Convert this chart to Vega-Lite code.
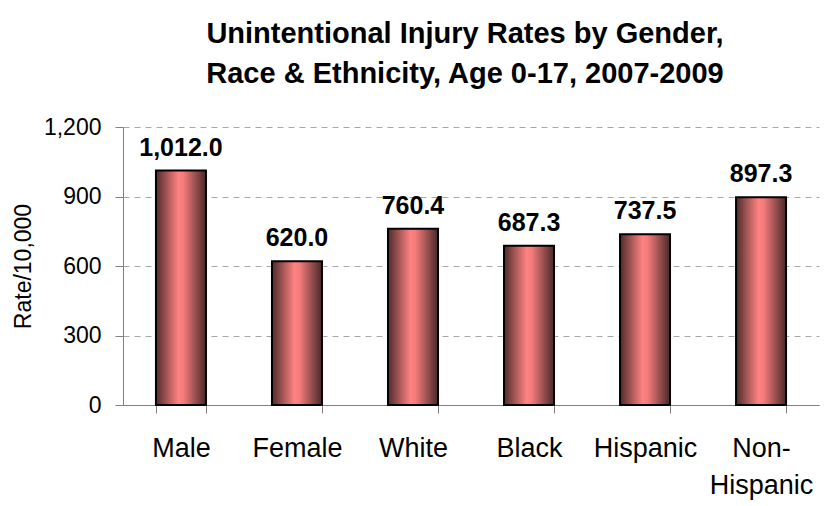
{
  "$schema": "https://vega.github.io/schema/vega-lite/v6.json",
  "width": 696,
  "height": 278,
  "autosize": {"type": "none"},
  "padding": {"left": 123, "top": 127, "right": 14, "bottom": 101},
  "background": "white",
  "config": {
    "font": "Liberation Sans",
    "view": {"stroke": null}
  },
  "title": {
    "text": ["Unintentional Injury Rates by Gender,", "Race & Ethnicity, Age 0-17, 2007-2009"],
    "fontSize": 29,
    "fontWeight": "bold",
    "color": "black",
    "anchor": "middle",
    "dx": -6,
    "lineHeight": 40,
    "offset": 27
  },
  "data": {
    "values": [
      {"group": "Male", "rate": 1012.0},
      {"group": "Female", "rate": 620.0},
      {"group": "White", "rate": 760.4},
      {"group": "Black", "rate": 687.3},
      {"group": "Hispanic", "rate": 737.5},
      {"group": "Non-Hispanic", "rate": 897.3}
    ]
  },
  "encoding": {
    "x": {
      "field": "group",
      "type": "nominal",
      "sort": null,
      "scale": {"paddingInner": 0.569, "paddingOuter": 0.284},
      "axis": {
        "title": null,
        "labelAngle": 0,
        "labelFontSize": 27,
        "labelColor": "black",
        "labelPadding": 22,
        "labelLineHeight": 37,
        "labelExpr": "datum.value == 'Non-Hispanic' ? ['Non-', 'Hispanic'] : datum.value",
        "tickBand": "extent",
        "tickSize": 8,
        "tickColor": "#808080",
        "domainColor": "#808080",
        "grid": false
      }
    },
    "y": {
      "field": "rate",
      "type": "quantitative",
      "scale": {"domain": [0, 1200]},
      "axis": {
        "title": "Rate/10,000",
        "titleFontSize": 23,
        "titleFontWeight": "normal",
        "titleColor": "black",
        "titlePadding": 8,
        "values": [0, 300, 600, 900, 1200],
        "format": ",d",
        "labelFontSize": 23,
        "labelColor": "black",
        "labelPadding": 14,
        "tickSize": 8,
        "tickColor": "#808080",
        "domainColor": "#808080",
        "gridDash": [6, 5],
        "gridColor": "#a8a8a8",
        "gridWidth": 1
      }
    }
  },
  "layer": [
    {
      "mark": {
        "type": "bar",
        "stroke": "black",
        "strokeWidth": 2,
        "color": {
          "gradient": "linear",
          "x1": 0, "x2": 1, "y1": 0, "y2": 0,
          "stops": [
            {"offset": 0, "color": "#4f2b2b"},
            {"offset": 0.45, "color": "#ff8282"},
            {"offset": 0.55, "color": "#f57c7c"},
            {"offset": 1, "color": "#4a2828"}
          ]
        }
      }
    },
    {
      "mark": {
        "type": "text",
        "fontSize": 25,
        "fontWeight": "bold",
        "baseline": "alphabetic",
        "dy": -15,
        "color": "black"
      },
      "encoding": {
        "text": {"field": "rate", "type": "quantitative", "format": ",.1f"}
      }
    }
  ]
}
